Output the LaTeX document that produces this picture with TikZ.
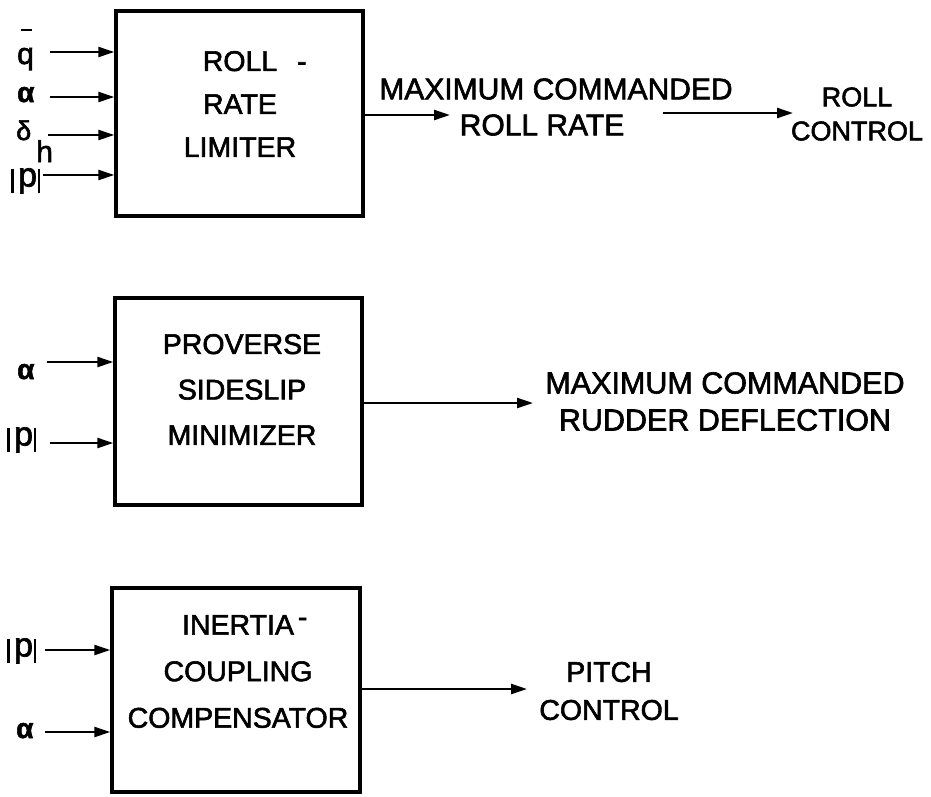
\documentclass[tikz,border=0pt]{standalone}
\usepackage{fontspec}
\setmainfont{Liberation Sans}
\newfontfamily\lett{Liberation Sans}[FakeBold=2]
\usetikzlibrary{arrows.meta}
\newcommand\absp{\rule[-0.2em]{2.9pt}{0.72em}\hspace{4pt}p\hspace{0.5pt}\rule[-0.2em]{2.9pt}{0.72em}}
\begin{document}
\begin{tikzpicture}[x=1pt,y=-1pt]
\tikzset{
 box/.style={draw, line width=3.4pt, inner sep=0pt},
 arr/.style={line width=2.4pt, -{Triangle[length=16pt,width=10pt]}},
 txt/.style={align=center, inner sep=0pt, font=\lett\fontsize{28.5}{#1}\selectfont},
 sym/.style={anchor=base west, inner sep=0pt, font=\lett\fontsize{30}{30}\selectfont},
 greek/.style={anchor=base west, inner sep=0pt, font=\lett\fontsize{28}{28}\selectfont\bfseries},
 absv/.style={anchor=base west, inner sep=0pt, font=\lett\fontsize{34}{34}\selectfont},
}
\useasboundingbox (0,0) rectangle (931,796);

% boxes
\node[box, minimum width=247pt, minimum height=205pt] (b1) at (239.5,113.5) {};
\node[box, minimum width=247pt, minimum height=207pt] (b2) at (238.5,401.5) {};
\node[box, minimum width=248pt, minimum height=204pt] (b3) at (236,690) {};

% box texts
\node[txt=43] (t1) at (240,104) {ROLL\rlap{\hspace{20pt}-}\\RATE\\LIMITER};
\node[txt=45.5] (t2) at (242,389.5) {PROVERSE\\SIDESLIP\\MINIMIZER};
\node[txt=46.5] (t3) at (238,671.5) {INERTIA\rlap{\hspace{4pt}\raisebox{8pt}{-}}\\COUPLING\\COMPENSATOR};

% input labels box 1
\node[sym] (lq) at (17,64) {\rlap{\hspace{3.5pt}\raisebox{33pt}{\rule{11pt}{2.2pt}}}q};
\node[greek] (la1) at (17,102) {α};
\node[sym] (ld) at (16,140) {{\fontsize{27}{27}\selectfont δ}\hspace{5pt}\raisebox{-22pt}{h}};
\node[absv] (lp1) at (11,186.5) {\absp};
\coordinate (s1) at (50,52);
\coordinate (s2) at (50,97);
\coordinate (s3) at (48,135);
\coordinate (s4) at (43,175);
\foreach \s in {s1,s2,s3,s4} \draw[arr] (\s) -- (\s -| b1.west);

% input labels box 2
\node[greek] (la2) at (17,379) {α};
\node[absv] (lp2) at (7,445.5) {\absp};
\coordinate (s5) at (47,362);
\coordinate (s6) at (50,443);
\foreach \s in {s5,s6} \draw[arr] (\s) -- (\s -| b2.west);

% input labels box 3
\node[absv] (lp3) at (7,656.5) {\absp};
\node[greek] (la3) at (16,738) {α};
\coordinate (s7) at (45,650);
\coordinate (s8) at (45,732);
\foreach \s in {s7,s8} \draw[arr] (\s) -- (\s -| b3.west);

% outputs box 1
\node[txt=36, font=\lett\fontsize{30}{36}\selectfont] (o1) at (556,107) {MAXIMUM COMMANDED\\ROLL RATE\hspace*{28pt}};
\coordinate (e1) at (450,115);
\draw[arr] (e1 -| b1.east) -- (e1);
\coordinate (f1) at (663,113);
\coordinate (f2) at (793,113);
\draw[arr] (f1) -- (f2);
\node[txt=34, font=\lett\fontsize{27}{34}\selectfont] (rc) at (857,114) {ROLL\\CONTROL};

% outputs box 2
\node[txt=37, font=\lett\fontsize{30.5}{37}\selectfont] (o2) at (725,401.5) {MAXIMUM COMMANDED\\RUDDER DEFLECTION};
\coordinate (e2) at (533,403);
\draw[arr] (e2 -| b2.east) -- (e2);

% outputs box 3
\node[txt=38] (o3) at (609,691) {PITCH\\CONTROL};
\coordinate (e3) at (527,689);
\draw[arr] (e3 -| b3.east) -- (e3);
\end{tikzpicture}
\end{document}
